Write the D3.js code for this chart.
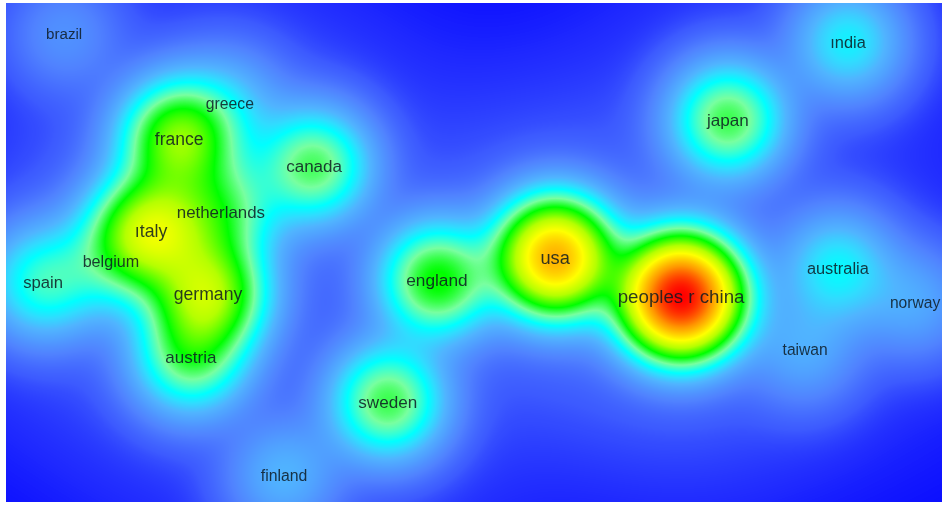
<!DOCTYPE html>
<html>
<head>
<meta charset="utf-8">
<script src="https://cdn.jsdelivr.net/npm/d3@7"></script>
<style>
  body { margin: 0; background: #fff; }
  #wrap { position: relative; width: 942px; height: 505px; }
  #wrap canvas, #wrap svg { position: absolute; left: 0; top: 0; }
</style>
</head>
<body>
<div id="wrap"></div>
<script>
// countries (VOSviewer density view), map coordinates + weights
const labels = ["peoples r china", "usa", "england", "sweden", "canada", "japan", "ındia", "australia",
  "norway", "taiwan", "finland", "brazil", "france", "greece", "ıtaly", "netherlands",
  "belgium", "spain", "germany", "austria"];
const xs = [0.531, 0.208, -0.095, -0.221, -0.410, 0.651, 0.959, 0.933,
  1.131, 0.849, -0.487, -1.051, -0.756, -0.626, -0.828, -0.649,
  -0.931, -1.105, -0.682, -0.726];
const ys = [-0.114, -0.012, -0.071, -0.383, 0.222, 0.340, 0.540, -0.040,
  -0.129, -0.250, -0.573, 0.560, 0.291, 0.383, 0.055, 0.104,
  -0.022, -0.076, -0.106, -0.268];
const weights = [100, 62, 23, 19, 18, 19, 9, 9,
  4, 4, 5, 2.5, 30, 4.5, 37, 15,
  7, 12, 33, 17];

// colour stops of the density scale
const colorStops = [0, 0.03, 0.08, 0.15, 0.25, 0.3, 0.34, 0.42, 0.5, 0.61, 0.7, 0.84, 1];
const colorRange = ["#0000ff", "#1e28ff", "#3c5aff", "#5082ff", "#50b4ff", "#30dcff", "#00ffff",
  "#78ffa0", "#00ff00", "#b4ff00", "#ffff00", "#ff9600", "#ff0000"];

const W = 942, H = 505;
const plot = {left: 6, top: 3, right: 942, bottom: 502};
const pw = plot.right - plot.left, ph = plot.bottom - plot.top;

const x = d3.scaleLinear().domain([-1.2, 1.2]).range([plot.left, plot.right]);
const y = d3.scaleLinear().domain([0.64, -0.64]).range([plot.top, plot.bottom]);
const color = d3.scaleLinear().domain(colorStops).range(colorRange).clamp(true);
const fontSize = d3.scaleLog().domain([1, 100]).range([14.3, 18.7]);

const sigma = 35, sigmaTail = 85, tail = 0.012; // kernel widths in px
const gamma = 0.47; // density -> colour compression
const pts = labels.map((l, i) => ({label: l, px: x(xs[i]), py: y(ys[i]), w: weights[i]}));

// density grid
const dens = new Float32Array(pw * ph);
let maxD = 0;
const k1 = 1 / (2 * sigma * sigma), k2 = 1 / (2 * sigmaTail * sigmaTail);
for (let j = 0; j < ph; j++) {
  const yy = plot.top + j + 0.5;
  for (let i = 0; i < pw; i++) {
    const xx = plot.left + i + 0.5;
    let s = 0;
    for (const p of pts) {
      const dx = xx - p.px, dy = yy - p.py, r2 = dx * dx + dy * dy;
      s += p.w * (Math.exp(-r2 * k1) + tail * Math.exp(-r2 * k2));
    }
    dens[j * pw + i] = s;
    if (s > maxD) maxD = s;
  }
}

const canvas = d3.select("#wrap").append("canvas")
  .attr("width", W).attr("height", H).node();
const ctx = canvas.getContext("2d");
ctx.fillStyle = "#fff";
ctx.fillRect(0, 0, W, H);
const img = ctx.createImageData(pw, ph);
const lut = d3.range(1024).map(v => d3.rgb(color(v / 1023)));
for (let n = 0; n < dens.length; n++) {
  const v = Math.pow(dens[n] / maxD, gamma);
  const c = lut[Math.round(v * 1023)];
  img.data[n * 4] = c.r;
  img.data[n * 4 + 1] = c.g;
  img.data[n * 4 + 2] = c.b;
  img.data[n * 4 + 3] = 255;
}
ctx.putImageData(img, plot.left, plot.top);

const svg = d3.select("#wrap").append("svg")
  .attr("width", W).attr("height", H);

svg.selectAll("text.label")
  .data(pts)
  .enter()
  .append("text")
  .attr("class", "label")
  .attr("x", d => d.px)
  .attr("y", d => d.py)
  .attr("dy", "0.35em")
  .attr("text-anchor", "middle")
  .style("font-family", "'Liberation Sans', Arial, sans-serif")
  .style("font-size", d => fontSize(d.w) + "px")
  .style("fill", "#0d1a22")
  .style("fill-opacity", 0.85)
  .text(d => d.label);
</script>
</body>
</html>
